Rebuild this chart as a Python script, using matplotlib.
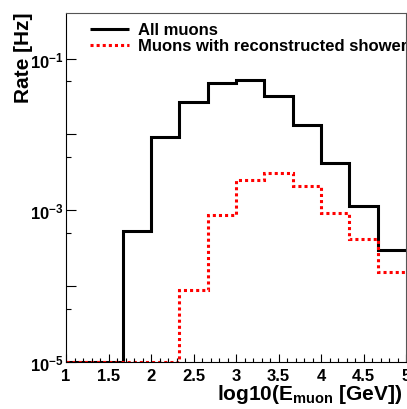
import numpy as np
import matplotlib
matplotlib.use("Agg")
import matplotlib.pyplot as plt
from matplotlib.ticker import FixedLocator, NullFormatter

plt.rcParams['font.family'] = ['Liberation Sans', 'DejaVu Sans']
plt.rcParams['mathtext.fontset'] = 'custom'
plt.rcParams['mathtext.rm'] = 'Liberation Sans:bold'
plt.rcParams['mathtext.bf'] = 'Liberation Sans:bold'
plt.rcParams['mathtext.it'] = 'Liberation Sans:bold'

bin_edges = [1.0, 4/3, 5/3, 2.0, 7/3, 8/3, 3.0, 10/3, 11/3, 4.0, 13/3, 14/3, 5.0]
all_muons = [1e-5, 1e-5, 5.3e-4, 9.3e-3, 2.68e-2, 4.8e-2, 5.3e-2, 3.2e-2, 1.33e-2, 4.2e-3, 1.14e-3, 2.96e-4]
reco_muons = [1e-5, 1e-5, 1e-5, 1e-5, 8.8e-5, 8.7e-4, 2.5e-3, 3.1e-3, 2.07e-3, 9.2e-4, 4.2e-4, 1.53e-4]
labels = ["All muons", "Muons with reconstructed shower"]
xlabel = r"log10(E$_{\mathbf{muon}}$ [GeV])"
ylabel = "Rate [Hz]"
x_ticks = [1, 1.5, 2, 2.5, 3, 3.5, 4, 4.5, 5]
x_tick_labels = ["1", "1.5", "2", "2.5", "3", "3.5", "4", "4.5", "5"]

fig = plt.figure(figsize=(4.07, 4.10), dpi=100)
ax = fig.add_axes([66/407, 1-363/410, 340/407, (363-14)/410])

ax.stairs(all_muons, bin_edges, baseline=None, color='black', linewidth=2.2)
ax.stairs(reco_muons, bin_edges, baseline=None, color='#ff0000', linewidth=2.2,
          linestyle=(0, (1, 1)))

ax.set_yscale('log')
ax.set_xlim(1, 5)
ax.set_ylim(1e-5, 0.4)

ax.xaxis.set_major_locator(FixedLocator(x_ticks))
ax.set_xticklabels(x_tick_labels)
ax.xaxis.set_minor_locator(FixedLocator(np.arange(1.0, 5.001, 0.1)))
ax.yaxis.set_major_locator(FixedLocator([1e-5, 1e-4, 1e-3, 1e-2, 1e-1]))
ax.set_yticklabels([r'$\mathbf{10^{-5}}$', '', r'$\mathbf{10^{-3}}$', '', r'$\mathbf{10^{-1}}$'])
ax.yaxis.set_minor_locator(FixedLocator([5e-5, 5e-4, 5e-3, 5e-2]))
ax.yaxis.set_minor_formatter(NullFormatter())

ax.tick_params(axis='x', which='major', direction='in', length=6, width=0.8, pad=4,
               labelsize=12, top=False)
ax.tick_params(axis='x', which='minor', direction='in', length=3, width=0.8, top=False)
ax.tick_params(axis='y', which='major', direction='in', length=7.5, width=0.8, pad=2,
               labelsize=12, right=False)
ax.tick_params(axis='y', which='minor', direction='in', length=3.8, width=0.8, right=False)
for lab in ax.get_xticklabels():
    lab.set_fontweight('bold')

for s in ['top', 'right']:
    ax.spines[s].set_color('#555555')
    ax.spines[s].set_linewidth(0.8)
for s in ['left', 'bottom']:
    ax.spines[s].set_linewidth(0.8)

ax.set_xlabel(xlabel, fontsize=15, fontweight='bold', loc='right')
ax.xaxis.set_label_coords(0.99, -0.056)
ax.set_ylabel(ylabel, fontsize=15, fontweight='bold', loc='top')
ax.yaxis.set_label_coords(-0.097, 1.003)

# legend (ROOT style, text clipped at the frame)
leg_y = [0.953, 0.907]
leg_base = [0.9398, 0.894]
ax.plot([0.0706, 0.1853], [leg_y[0]] * 2, transform=ax.transAxes, color='black',
        linewidth=2.2, solid_capstyle='butt')
ax.plot([0.0706, 0.1853], [leg_y[1]] * 2, transform=ax.transAxes, color='#ff0000',
        linewidth=2.2, linestyle=(0, (1, 1)))
for lab, yb in zip(labels, leg_base):
    ax.text(0.2118, yb, lab, transform=ax.transAxes, fontsize=12, fontweight='bold',
            va='baseline', ha='left', clip_on=True)

fig.savefig("out.png", dpi=100)
